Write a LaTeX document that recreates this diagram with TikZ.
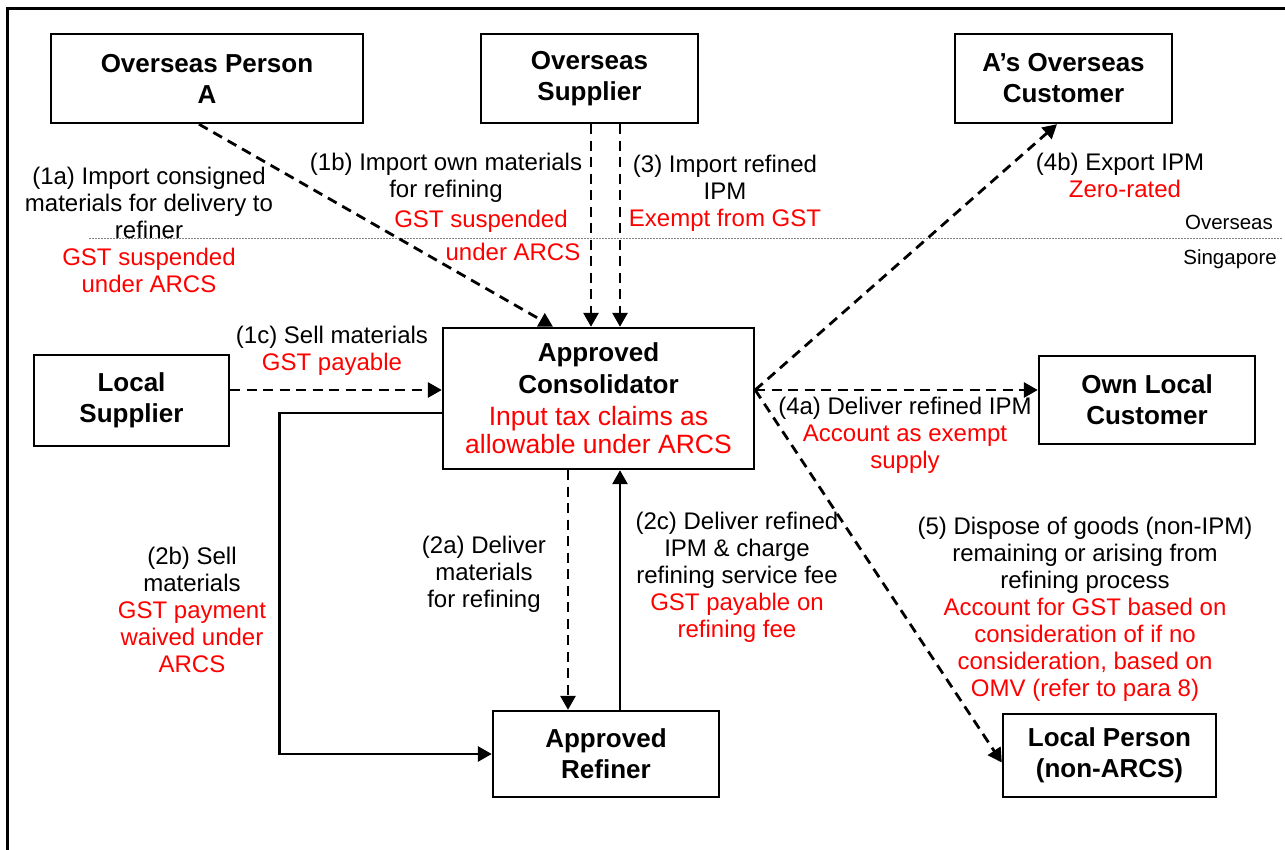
\documentclass[tikz,border=0pt]{standalone}
\usepackage{fontspec}
\setmainfont{Liberation Sans}
\usetikzlibrary{arrows.meta,calc}
\begin{document}
\begin{tikzpicture}[x=1pt,y=-1pt,
  box/.style={draw,line width=2.4pt,inner sep=0pt,align=center,font=\bfseries\fontsize{26}{31}\selectfont},
  lbl/.style={align=center,inner sep=0pt,font=\fontsize{24}{27}\selectfont},
  rlbl/.style={lbl,text=red},
  small/.style={inner sep=0pt,font=\fontsize{20.5}{24}\selectfont},
  tip/.style={-{Triangle[length=14pt,width=15pt]}},
  dconn/.style={tip,line width=2.8pt,dash pattern=on 10pt off 6.5pt},
  sconn/.style={tip,line width=2.8pt}
]
\useasboundingbox (0,0) rectangle (1285,850);
% frame
\draw[line width=3pt] (7,850) -- (7,9) -- (1285,9);
% border between overseas and Singapore
\draw[gray,line width=1pt,dash pattern=on 1.5pt off 1.5pt] (89,239) -- (1282,239);
\node[small,anchor=east] (ovs) at (1273,222) {Overseas};
\node[small,anchor=east] (sgp) at (1277,259) {Singapore};

% boxes
\node[box,minimum width=312pt,minimum height=89pt] (pA) at (207,78.5) {Overseas Person\\A};
\node[box,minimum width=217pt,minimum height=89pt] (oS) at (589.5,78.5) {Overseas\\Supplier};
\node[box,minimum width=217pt,minimum height=89pt] (aC) at (1063.5,78.5) {A’s Overseas\\Customer};
\node[box,minimum width=195pt,minimum height=91pt] (lS) at (131.5,400.5) {Local\\Supplier};
\node[box,minimum width=311pt,minimum height=141pt,font=\fontsize{26.5}{28}\selectfont] (cons) at (598.5,398.5)
  {{\bfseries\fontsize{26}{28}\selectfont Approved}\\[4pt]{\bfseries\fontsize{26}{28}\selectfont Consolidator}\\[4pt]{\color{red}Input tax claims as}\\{\color{red}allowable under ARCS}};
\node[box,minimum width=216pt,minimum height=88pt] (oLC) at (1147,400) {Own Local\\Customer};
\node[box,minimum width=226pt,minimum height=86pt] (ref) at (606,754) {Approved\\Refiner};
\node[box,minimum width=213pt,minimum height=83pt] (lP) at (1109.5,755.5) {Local Person\\(non-ARCS)};

% coordinates on boxes
\coordinate (ce) at ([yshift=8.5pt]cons.east);
\coordinate (s1) at ([xshift=1.5pt]oS.south);
\coordinate (s2) at ([xshift=30.5pt]oS.south);
\coordinate (l1) at ([yshift=10.5pt]lS.east);
\coordinate (d1) at ([xshift=-30.5pt]cons.south);
\coordinate (u1) at ([xshift=21.5pt]cons.south);
\coordinate (b1) at ([yshift=-14.5pt]cons.west);

% connectors
\draw[dconn] ([xshift=-8pt]pA.south) -- ([xshift=-45.5pt]cons.north);
\draw[dconn] (s1) -- (s1 |- cons.north);
\draw[dconn] (s2) -- (s2 |- cons.north);
\draw[dconn] (ce) -- ([xshift=-6.5pt]aC.south);
\draw[dconn] (ce) -- (ce -| oLC.west);
\draw[dconn] (ce) -- ([yshift=-7pt]lP.west);
\draw[dconn] (l1) -- (l1 -| cons.west);
\draw[dconn] (d1) -- (d1 |- ref.north);
\draw[sconn] (u1 |- ref.north) -- (u1);
\draw[sconn] (b1) -| ([xshift=-212pt]ref.west) -- (ref.west);

% labels
\node[lbl] (t1a) at (149,230) {(1a) Import consigned\\materials for delivery to\\refiner\\{\color{red}GST suspended}\\{\color{red}under ARCS}};
\node[lbl] (t1b) at (446,178) {(1b) Import own materials\\for refining};
\node[rlbl] (t1br) at (481,221) {GST suspended};
\node[rlbl] (t1bs) at (513,252) {under ARCS};
\node[lbl] (t3) at (725,193) {(3) Import refined\\IPM\\{\color{red}Exempt from GST}};
\node[lbl] (t4b) at (1120,175) {(4b) Export IPM\\\hspace*{10pt}{\color{red}Zero-rated}};
\node[lbl] (t1c) at (332,351) {(1c) Sell materials\\{\color{red}GST payable}};
\node[lbl] (t4a) at (905,435.5) {(4a) Deliver refined IPM\\{\color{red}Account as exempt}\\{\color{red}supply}};
\node[lbl] (t2b) at (192,610) {(2b) Sell\\materials\\{\color{red}GST payment}\\{\color{red}waived under}\\{\color{red}ARCS}};
\node[lbl] (t2a) at (484,574.5) {(2a) Deliver\\materials\\for refining};
\node[lbl] (t2c) at (737,577) {(2c) Deliver refined\\IPM \& charge\\refining service fee\\{\color{red}GST payable on}\\{\color{red}refining fee}};
\node[lbl] (t5) at (1085,609.5) {(5) Dispose of goods (non-IPM)\\remaining or arising from\\refining process\\{\color{red}Account for GST based on}\\{\color{red}consideration of if no}\\{\color{red}consideration, based on}\\{\color{red}OMV (refer to para 8)}};
\end{tikzpicture}
\end{document}
